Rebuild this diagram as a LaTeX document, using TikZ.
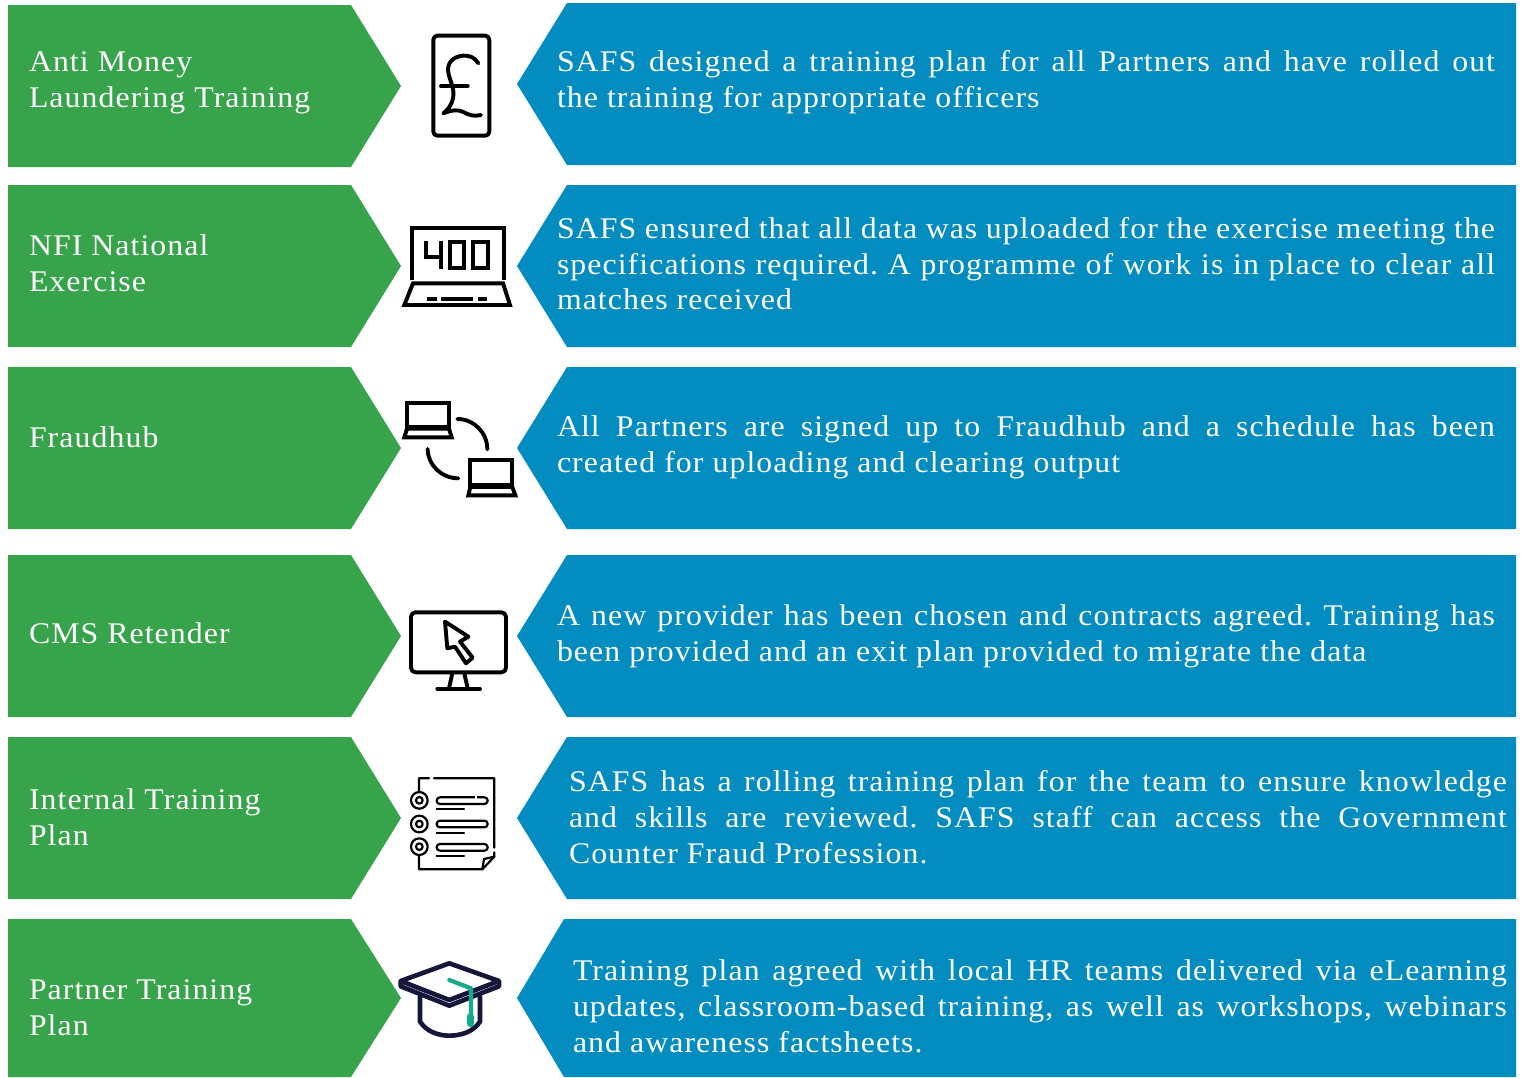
\documentclass[tikz,border=0pt]{standalone}
\usepackage{fontspec}
\setmainfont[LetterSpace=3.6,FakeStretch=1.06]{Liberation Serif}
\definecolor{gr}{RGB}{55,163,75}
\definecolor{bl}{RGB}{3,140,191}
\definecolor{navy}{RGB}{20,22,58}
\definecolor{tass}{RGB}{18,171,139}
\tikzset{
 txt/.style={anchor=base west,inner sep=0pt,outer sep=0pt,text=white,font=\fontsize{30}{36}\selectfont},
 ico/.style={x=0.3333pt,y=-0.3333pt},
 ln/.style={draw=black,line width=3.9pt,line join=miter},
 rd/.style={draw=black,line width=3.9pt,line cap=round,line join=round},
 doc/.style={draw=black,line width=2.2pt,line cap=round,line join=round},
 capl/.style={draw=navy,line width=4.6pt,line cap=round,line join=round}
}
\newcommand{\jl}[2]{\hbox to #1pt{#2}}
\newcommand{\vb}[1]{\vtop{\frenchspacing\baselineskip=36pt\lineskiplimit=-20pt\hsize=1000pt #1}}
\newcommand{\gshape}[2]{\fill[gr] (8,#1)--(351,#1)--(401,{(#1+#2)/2})--(351,#2)--(8,#2)--cycle;}
\newcommand{\bshape}[3]{\fill[bl] (517,{(#1+#2)/2})--(#3,#1)--(1516,#1)--(1516,#2)--(#3,#2)--cycle;}
\begin{document}
\begin{tikzpicture}[x=1pt,y=-1pt]
\useasboundingbox (0,0) rectangle (1526,1077);
\fill[white] (0,0) rectangle (1526,1077);
\gshape{5}{167}\gshape{185}{347}\gshape{367}{529}\gshape{555}{717}\gshape{737}{899}\gshape{919}{1077}
\bshape{3}{165}{567}\bshape{185}{347}{567}\bshape{367}{529}{567}\bshape{555}{717}{567}\bshape{737}{899}{567}\bshape{919}{1077}{564}
% left
\node[txt] (g1) at (29,71) {\vb{\hbox{Anti Money}\hbox{Laundering Training}}};
\node[txt] (g2) at (29,255) {\vb{\hbox{NFI National}\hbox{Exercise}}};
\node[txt] (g3) at (29,447) {\vb{\hbox{Fraudhub}}};
\node[txt] (g4) at (29,643) {\vb{\hbox{CMS Retender}}};
\node[txt] (g5) at (29,809) {\vb{\hbox{Internal Training}\hbox{Plan}}};
\node[txt] (g6) at (29,999) {\vb{\hbox{Partner Training}\hbox{Plan}}};
% right
\node[txt] (b1) at (557,71) {\vb{\jl{938}{SAFS designed a training plan for all Partners and have rolled out}\hbox{the training for appropriate officers}}};
\node[txt] (b2) at (557,238) {\vb{\jl{938}{SAFS ensured that all data was uploaded for the exercise meeting the}\jl{938}{specifications required. A programme of work is in place to clear all}\vskip-1pt\hbox{matches received}}};
\node[txt] (b3) at (557,436) {\vb{\jl{938}{All Partners are signed up to Fraudhub and a schedule has been}\hbox{created for uploading and clearing output}}};
\node[txt] (b4) at (557,625) {\vb{\jl{938}{A new provider has been chosen and contracts agreed. Training has}\hbox{been provided and an exit plan provided to migrate the data}}};
\node[txt] (b5) at (569,791) {\vb{\jl{938}{SAFS has a rolling training plan for the team to ensure knowledge}\jl{938}{and skills are reviewed. SAFS staff can access the Government}\hbox{Counter Fraud Profession.}}};
\node[txt] (b6) at (573,980) {\vb{\jl{934}{Training plan agreed with local HR teams delivered via eLearning}\jl{934}{updates, classroom-based training, as well as workshops, webinars}\hbox{and awareness factsheets.}}};
% phone
\begin{scope}[shift={(395,20)},ico]
\draw[rd,rounded corners=4pt] (115,47) rectangle (283,347);
\draw[rd] (250,130) .. controls (240,112) and (222,106) .. (205,107) .. controls (172,110) and (155,130) .. (160,158) .. controls (165,185) and (180,205) .. (174,235) .. controls (170,255) and (158,270) .. (145,280) .. controls (170,270) and (190,268) .. (205,276) .. controls (222,286) and (240,290) .. (258,285);
\draw[rd] (138,198) -- (218,198);
% laptop 400
\draw[ln] (52,780) -- (52,625) -- (326,625) -- (326,780);
\draw[ln] (54,790) -- (324,790) -- (345,855) -- (28,855) -- cycle;
\draw[ln] (97,836) -- (125,836) (138,836) -- (235,836) (248,836) -- (275,836);
\draw[ln] (93,662) -- (93,710) -- (140,710) (137,662) -- (137,748);
\draw[ln] (165,665) rectangle (207,745);
\draw[ln] (235,665) rectangle (278,745);
\end{scope}
% laptops exchange and monitor
\begin{scope}[shift={(395,390)},ico]
\draw[ln] (36,38) rectangle (162,110);
\draw[ln] (36,116) -- (162,116) -- (170,142) -- (28,142) -- cycle;
\draw[ln] (226,210) rectangle (352,285);
\draw[ln] (226,291) -- (352,291) -- (361,316) -- (220,316) -- cycle;
\draw[rd] (187,87) .. controls (237,87) and (277,128) .. (277,178);
\draw[rd] (98,177) .. controls (98,225) and (140,265) .. (190,265);
\draw[rd,rounded corners=4.5pt] (48,667) rectangle (333,847);
\draw[ln] (172,850) -- (162,895) (208,850) -- (218,895);
\draw[rd] (127,897) -- (255,897);
\draw[rd] (150,695) -- (220,740) -- (195,755) -- (233,803) -- (213,820) -- (180,770) -- (157,775) -- cycle;
\end{scope}
% document and cap
\begin{scope}[shift={(390,765)},ico]
\draw[doc] (87,78) -- (87,40) -- (117,40) (132,40) -- (313,40) -- (313,248) (313,262) -- (313,275) -- (277,313) -- (87,313) -- (87,272);
\draw[doc] (277,313) -- (282,282) -- (313,275);
\foreach \yy in {106,177,245}{
 \draw[doc] (88,\yy) circle[radius=25];
 \draw[doc] (88,\yy) circle[radius=10];
}
\draw[doc,rounded corners=3.2pt] (140,97) rectangle (293,117);
\draw[white,line width=2.8pt] (255,97) -- (262,97);
\draw[doc,rounded corners=3.2pt] (140,167) rectangle (293,187);
\draw[doc,rounded corners=3.2pt] (140,237) rectangle (293,257);
\draw[doc] (140,132) -- (222,132) (140,203) -- (222,203) (140,273) -- (222,273);
\draw[capl] (178,595) -- (327,648) -- (178,705) -- (32,648) -- cycle;
\draw[capl] (32,650) -- (32,664) -- (178,722) -- (327,664) -- (327,650);
\draw[capl] (90,695) -- (90,770) .. controls (110,800) and (145,812) .. (178,812) .. controls (215,812) and (250,800) .. (270,770) -- (270,695);
\draw[tass,line width=4.2pt,line cap=round,line join=round] (178,645) -- (243,670) -- (243,770);
\draw[tass,line width=7.5pt,line cap=round] (241,755) -- (241,775);
\end{scope}
\end{tikzpicture}
\end{document}
